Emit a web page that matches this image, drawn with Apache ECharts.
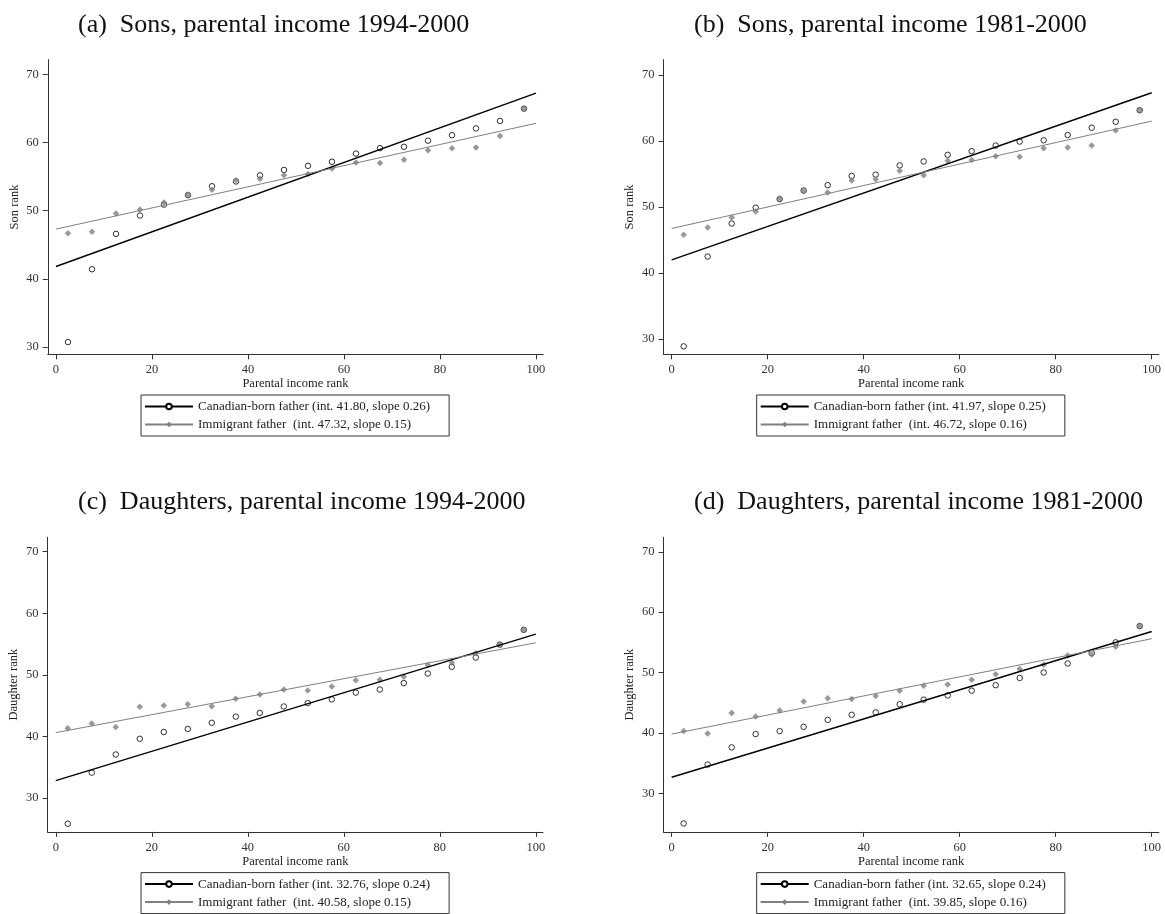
<!DOCTYPE html>
<html>
<head>
<meta charset="utf-8">
<script src="https://cdn.jsdelivr.net/npm/echarts@6/dist/echarts.min.js"></script>
<style>
html,body{margin:0;padding:0;background:#fff;}
#chart{width:1165px;height:914px;}
</style>
</head>
<body>
<div id="chart"></div>
<script>
// Parental income rank bins (midpoints of ventiles)
const xBins = [2.5, 7.5, 12.5, 17.5, 22.5, 27.5, 32.5, 37.5, 42.5, 47.5, 52.5, 57.5, 62.5, 67.5, 72.5, 77.5, 82.5, 87.5, 92.5, 97.5];
const xTicks = [0, 20, 40, 60, 80, 100];
const yTicks = [30, 40, 50, 60, 70];

// (a) Sons, parental income 1994-2000
const sonsA_can = [30.7, 41.4, 46.6, 49.3, 50.9, 52.3, 53.6, 54.3, 55.2, 56.0, 56.6, 57.2, 58.4, 59.2, 59.4, 60.3, 61.1, 62.1, 63.2, 65.0];
const sonsA_imm = [46.7, 46.9, 49.6, 50.2, 51.2, 52.4, 53.1, 54.5, 54.7, 55.2, 55.4, 56.2, 57.1, 57.0, 57.5, 58.9, 59.2, 59.3, 61.0, 65.0];
const sonsA_canFit = [41.8, 67.3];
const sonsA_immFit = [47.3, 62.85];

// (b) Sons, parental income 1981-2000
const sonsB_can = [28.9, 42.5, 47.5, 49.9, 51.2, 52.5, 53.3, 54.7, 54.9, 56.3, 56.9, 57.9, 58.45, 59.3, 59.9, 60.1, 60.9, 62.0, 62.9, 64.65];
const sonsB_imm = [45.8, 46.9, 48.4, 49.3, 51.3, 52.4, 52.2, 54.0, 54.2, 55.5, 54.8, 57.0, 57.1, 57.7, 57.6, 58.9, 59.0, 59.3, 61.6, 64.65];
const sonsB_canFit = [42.0, 67.3];
const sonsB_immFit = [46.75, 63.0];

// (c) Daughters, parental income 1994-2000
const dauC_can = [25.8, 34.1, 37.05, 39.6, 40.7, 41.2, 42.2, 43.2, 43.8, 44.85, 45.4, 46.0, 47.1, 47.6, 48.65, 50.2, 51.3, 52.8, 54.9, 57.3];
const dauC_imm = [41.3, 42.1, 41.5, 44.8, 45.0, 45.2, 44.9, 46.1, 46.8, 47.6, 47.45, 48.1, 49.1, 49.2, 49.7, 51.6, 52.0, 53.5, 54.9, 57.3];
const dauC_canFit = [32.8, 56.6];
const dauC_immFit = [40.6, 55.2];

// (d) Daughters, parental income 1981-2000
const dauD_can = [25.0, 34.75, 37.6, 39.8, 40.3, 41.0, 42.15, 43.0, 43.4, 44.75, 45.5, 46.2, 47.0, 47.9, 49.1, 50.0, 51.5, 53.2, 55.0, 57.7];
const dauD_imm = [40.3, 39.9, 43.3, 42.7, 43.7, 45.2, 45.75, 45.6, 46.1, 47.0, 47.8, 48.0, 48.8, 49.7, 50.6, 51.3, 52.8, 53.0, 54.25, 57.7];
const dauD_canFit = [32.65, 56.8];
const dauD_immFit = [39.8, 55.6];

const fitX = [0, 100];

const panelTitles = [
  "(a)  Sons, parental income 1994-2000",
  "(b)  Sons, parental income 1981-2000",
  "(c)  Daughters, parental income 1994-2000",
  "(d)  Daughters, parental income 1981-2000"
];
const yNames = ["Son rank", "Son rank", "Daughter rank", "Daughter rank"];
const xName = "Parental income rank";
const canLabels = [
  "Canadian-born father (int. 41.80, slope 0.26)",
  "Canadian-born father (int. 41.97, slope 0.25)",
  "Canadian-born father (int. 32.76, slope 0.24)",
  "Canadian-born father (int. 32.65, slope 0.24)"
];
const immLabels = [
  "Immigrant father  (int. 47.32, slope 0.15)",
  "Immigrant father  (int. 46.72, slope 0.16)",
  "Immigrant father  (int. 40.58, slope 0.15)",
  "Immigrant father  (int. 39.85, slope 0.16)"
];
const yRanges = [[28.9, 72.2], [27.7, 72.3], [24.47, 72.34], [23.6, 72.4]];

const panels = [
  {can: sonsA_can, imm: sonsA_imm, canFit: sonsA_canFit, immFit: sonsA_immFit},
  {can: sonsB_can, imm: sonsB_imm, canFit: sonsB_canFit, immFit: sonsB_immFit},
  {can: dauC_can, imm: dauC_imm, canFit: dauC_canFit, immFit: dauC_immFit},
  {can: dauD_can, imm: dauD_imm, canFit: dauD_canFit, immFit: dauD_immFit}
];

// layout
const FONT = "Liberation Serif";
const GRAY = "#808080";
const gridLeft = [47.8, 663.5, 47.6, 663.5];
const gridTop = [59.7, 59.7, 537.3, 537.3];
const gridW = 495.4, gridH = 294.6;
const legendLeft = [141, 756.7, 141, 756.7];
const legendTop = [395, 395, 872.6, 872.6];
const titleLeft = [78, 694, 78, 694];
const titleTop = [12, 12, 489.6, 489.6];

const zip = (xs, ys) => xs.map((x, i) => [x, ys[i]]);

const grids = [], xAxes = [], yAxes = [], series = [], legends = [], titles = [];
panels.forEach((p, i) => {
  grids.push({left: gridLeft[i], top: gridTop[i], width: gridW, height: gridH, containLabel: false});
  titles.push({
    text: panelTitles[i], left: titleLeft[i], top: titleTop[i], padding: 0,
    textStyle: {fontFamily: FONT, fontSize: 26, fontWeight: 'normal', color: '#111'}
  });
  xAxes.push({
    type: 'value', gridIndex: i, min: -1.7, max: 101.5,
    name: xName, nameLocation: 'middle', nameGap: 21,
    nameTextStyle: {fontFamily: FONT, fontSize: 12.5, color: '#222'},
    axisLine: {show: true, onZero: false, lineStyle: {color: '#333', width: 1}},
    axisTick: {show: true, length: 5, customValues: xTicks, lineStyle: {color: '#333'}},
    axisLabel: {customValues: xTicks, fontFamily: FONT, fontSize: 12.5, color: '#333', margin: 9},
    splitLine: {show: false}
  });
  yAxes.push({
    type: 'value', gridIndex: i, min: yRanges[i][0], max: yRanges[i][1],
    name: yNames[i], nameLocation: 'middle', nameGap: 27, nameRotate: 90,
    nameTextStyle: {fontFamily: FONT, fontSize: 12.5, color: '#222'},
    axisLine: {show: true, onZero: false, lineStyle: {color: '#333', width: 1}},
    axisTick: {show: true, length: 5, customValues: yTicks, lineStyle: {color: '#333'}},
    axisLabel: {customValues: yTicks, fontFamily: FONT, fontSize: 12.5, color: '#333', margin: 9},
    splitLine: {show: false}
  });
  series.push({
    type: 'scatter', name: 'can_pts_' + i, xAxisIndex: i, yAxisIndex: i,
    data: zip(xBins, p.can), symbol: 'circle', symbolSize: 5.5,
    itemStyle: {color: 'rgba(255,255,255,0)', borderColor: '#000', borderWidth: 1}, z: 3
  });
  series.push({
    type: 'scatter', name: 'imm_pts_' + i, xAxisIndex: i, yAxisIndex: i,
    data: zip(xBins, p.imm), symbol: 'diamond', symbolSize: 6.5,
    itemStyle: {color: GRAY}, z: 3
  });
  series.push({
    type: 'line', name: canLabels[i], xAxisIndex: i, yAxisIndex: i,
    data: zip(fitX, p.canFit), showSymbol: false, symbol: 'circle',
    itemStyle: {color: '#fff', borderColor: '#000', borderWidth: 1},
    lineStyle: {color: '#000', width: 1.4}, z: 4, silent: true
  });
  series.push({
    type: 'line', name: immLabels[i], xAxisIndex: i, yAxisIndex: i,
    data: zip(fitX, p.immFit), showSymbol: false, symbol: 'diamond',
    itemStyle: {color: GRAY, borderColor: GRAY},
    lineStyle: {color: GRAY, width: 1}, z: 4, silent: true
  });
  legends.push({
    data: [canLabels[i], immLabels[i]], orient: 'vertical',
    left: legendLeft[i], top: legendTop[i],
    itemWidth: 48, itemHeight: 7, itemGap: 5,
    padding: [5, 19, 5, 3],
    borderColor: '#333', borderWidth: 1, borderRadius: 0,
    textStyle: {fontFamily: FONT, fontSize: 13, color: '#222'},
    selectedMode: false
  });
});

const chart = echarts.init(document.getElementById('chart'), null, {renderer: 'canvas'});
chart.setOption({
  backgroundColor: '#fff',
  animation: false,
  title: titles,
  grid: grids,
  xAxis: xAxes,
  yAxis: yAxes,
  legend: legends,
  series: series
});
</script>
</body>
</html>
